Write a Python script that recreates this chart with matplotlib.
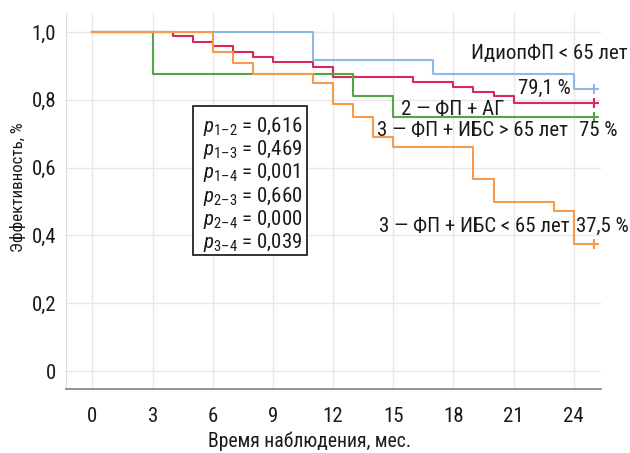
import matplotlib
matplotlib.use("Agg")
import matplotlib.pyplot as plt
from matplotlib.patches import Rectangle
from matplotlib import font_manager

# ---- data ----
x_ticks = [0, 3, 6, 9, 12, 15, 18, 21, 24]
y_ticks = [0, 0.2, 0.4, 0.6, 0.8, 1.0]
y_tick_labels = ["0", "0,2", "0,4", "0,6", "0,8", "1,0"]
end_time = 25

blue_t = [0, 11, 17, 24]
blue_s = [1.0, 0.917, 0.875, 0.833]

red_t = [0, 4, 5, 6, 7, 8, 9, 11, 12, 16, 18, 19, 20, 21]
red_s = [1.0, 0.988, 0.971, 0.959, 0.942, 0.927, 0.912, 0.898, 0.868, 0.853,
         0.839, 0.824, 0.810, 0.791]

green_t = [0, 3, 13, 15]
green_s = [1.0, 0.875, 0.8125, 0.75]

orange_t = [0, 6, 7, 8, 11, 12, 13, 14, 15, 19, 20, 23, 24]
orange_s = [1.0, 0.942, 0.91, 0.875, 0.849, 0.788, 0.75, 0.691, 0.66, 0.565,
            0.50, 0.472, 0.375]

p_labels = ["1\u20132", "1\u20133", "1\u20134", "2\u20133", "2\u20134", "3\u20134"]
p_values = ["0,616", "0,469", "0,001", "0,660", "0,000", "0,039"]

# ---- font choice: prefer a narrow family if installed ----
installed = {f.name for f in font_manager.fontManager.ttflist}
candidates = ["Roboto Condensed", "Liberation Sans Narrow", "DejaVu Sans Condensed", "Roboto"]
FONT = next((c for c in candidates if c in installed), "DejaVu Sans")
SCALE = 1.0 if FONT != "Roboto" else 0.93
plt.rcParams["font.family"] = [FONT, "DejaVu Sans"]
plt.rcParams["mathtext.fontset"] = "custom"
plt.rcParams["mathtext.rm"] = FONT
plt.rcParams["mathtext.it"] = FONT + ":italic"

fig = plt.figure(figsize=(6.3, 4.53), dpi=100)
ax = fig.add_axes([66 / 630, 1 - 389 / 453, (601 - 66) / 630, (389 - 13) / 453])

ax.set_xlim(-1.32, 25.36)
ax.set_ylim(-0.053, 1.056)

series = [
    (blue_t, blue_s, "#8cb9e6"),
    (red_t, red_s, "#d7295c"),
    (green_t, green_s, "#55a447"),
    (orange_t, orange_s, "#f79a4c"),
]
for t, s, c in series:
    tt = list(t) + [end_time]
    ss = list(s) + [s[-1]]
    ax.step(tt, ss, where="post", color=c, lw=1.5, zorder=3)
    ax.plot([end_time], [s[-1]], marker="+", color=c, ms=7, mew=1.5, zorder=4)

FS = 15 * SCALE
ax.set_xticks(x_ticks)
ax.set_yticks(y_ticks)
ax.set_yticklabels(y_tick_labels)
ax.grid(True, color="#e8e8e8", lw=1.0, zorder=0)
ax.set_axisbelow(True)
ax.tick_params(axis="both", length=0, labelsize=FS, labelcolor="#1a1a1a")
ax.tick_params(axis="x", pad=13)
ax.tick_params(axis="y", pad=7)

for sp in ("top", "right"):
    ax.spines[sp].set_visible(False)
ax.spines["left"].set_color("#dddddd")
ax.spines["bottom"].set_color("#8a8a8a")
ax.spines["bottom"].set_linewidth(1.3)

fig.text(18 / 630, 1 - 187 / 453, "Эффективность, %", rotation=90,
         ha="center", va="center", fontsize=12.2 * SCALE, color="#1a1a1a")
fig.text(310 / 630, 1 - 441 / 453, "Время наблюдения, мес.",
         ha="center", va="center", fontsize=14.2 * SCALE, color="#1a1a1a")

tk = dict(fontsize=FS, color="#1a1a1a", va="baseline", zorder=5)
ax.text(18.9, 0.920, "ИдиопФП < 65 лет", **tk)
ax.text(21.2, 0.817, "79,1 %", **tk)
ax.text(15.39, 0.755, "2 — ФП + АГ", **tk)
ax.text(14.2, 0.693, "3 — ФП + ИБС > 65 лет", **tk)
ax.text(24.28, 0.693, "75 %", **tk)
ax.text(14.3, 0.411, "3 — ФП + ИБС < 65 лет", **tk)
ax.text(24.1, 0.411, "37,5 %", **tk)

# p-value box
ax.add_patch(Rectangle((5.01, 0.342), 10.68 - 5.01, 0.782 - 0.342,
                       fill=True, facecolor="white", edgecolor="#111111",
                       lw=1.2, zorder=4))
for i, (lab, val) in enumerate(zip(p_labels, p_values)):
    ax.text(5.51, 0.706 - i * 0.0687, "$p_{%s}$ = %s" % (lab, val), **tk)

fig.savefig("out.png", dpi=100)
